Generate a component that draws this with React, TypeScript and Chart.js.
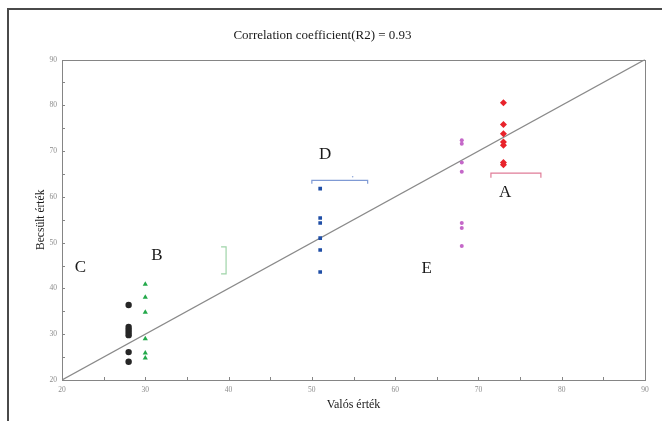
import React, { useEffect, useRef } from "react";
import { Chart, registerables } from "chart.js";
Chart.register(...registerables);

// ---- data ----
const axisMin = 20;
const axisMax = 90;
const tickStep = 10;
const minorStep = 5;

const titleText = "Correlation coefficient(R2) = 0.93";
const xTitle = "Valós érték";
const yTitle = "Becsült érték";

// group A (red diamonds)
const groupAX = 73;
const groupAY = [80.6, 75.8, 73.8, 72.0, 71.3, 67.5, 67.0];
// group B (green triangles)
const groupBX = 30;
const groupBY = [40.9, 38.1, 34.8, 29.0, 25.9, 24.8];
// group C (black circles)
const groupCX = 28;
const groupCY = [36.4, 31.6, 31.0, 30.4, 29.8, 26.1, 24.0];
// group D (blue squares)
const groupDX = 51;
const groupDY = [61.8, 55.4, 54.3, 51.0, 48.4, 43.6];
// group E (violet dots)
const groupEX = 68;
const groupEY = [72.4, 71.6, 67.5, 65.5, 54.3, 53.2, 49.3];

// identity line
const diagX = [20, 90];
const diagY = [20, 90];

// bracket shapes (data coordinates)
const bracketAX = [71.5, 71.5, 77.5, 77.5];
const bracketAY = [64.2, 65.2, 65.2, 64.2];
const bracketDX = [50.0, 50.0, 56.7, 56.7];
const bracketDY = [62.9, 63.6, 63.6, 62.9];
const bracketDDotX = [54.9];
const bracketDDotY = [64.4];
const bracketGX = [39.1, 39.7, 39.7, 39.1];
const bracketGY = [49.1, 49.1, 43.2, 43.2];

// group letters
const letterText = ["A", "B", "C", "D", "E"];
const letterX = [73.2, 31.4, 22.2, 51.6, 63.8];
const letterY = [60.9, 47.1, 44.5, 69.2, 44.3];

const pts = (xs: number[] | number, ys: number[]) =>
  ys.map((y, i) => ({ x: Array.isArray(xs) ? xs[i] : xs, y }));

const decorPlugin = {
  id: "decor",
  beforeDatasetsDraw(chart: any) {
    const { ctx } = chart;
    ctx.save();
    // page frame (top and left edges)
    ctx.strokeStyle = "#4a4a4a";
    ctx.lineWidth = 2;
    ctx.beginPath();
    ctx.moveTo(8, 421);
    ctx.lineTo(8, 9);
    ctx.lineTo(662, 9);
    ctx.stroke();
    ctx.restore();
  },
  afterDraw(chart: any) {
    const { ctx, chartArea, scales } = chart;
    const { left, right, top, bottom } = chartArea;
    const xs = scales.x;
    const ys = scales.y;
    ctx.save();
    ctx.strokeStyle = "#858585";
    ctx.lineWidth = 1;
    ctx.strokeRect(Math.round(left) + 0.5, Math.round(top) + 0.5, Math.round(right - left), Math.round(bottom - top));
    ctx.beginPath();
    for (let v = axisMin; v <= axisMax; v += minorStep) {
      const px = Math.round(xs.getPixelForValue(v)) + 0.5;
      ctx.moveTo(px, bottom);
      ctx.lineTo(px, bottom - 3);
      const py = Math.round(ys.getPixelForValue(v)) + 0.5;
      ctx.moveTo(left, py);
      ctx.lineTo(left + 3, py);
    }
    ctx.stroke();
    // letters
    ctx.fillStyle = "#1a1a1a";
    ctx.font = "17px 'Liberation Serif', serif";
    ctx.textAlign = "center";
    ctx.textBaseline = "middle";
    letterText.forEach((t, i) => {
      ctx.fillText(t, xs.getPixelForValue(letterX[i]), ys.getPixelForValue(letterY[i]));
    });
    ctx.restore();
  },
};

export default function App() {
  const ref = useRef<HTMLCanvasElement | null>(null);
  useEffect(() => {
    document.body.style.margin = "0";
    const canvas = ref.current;
    if (!canvas) return;
    const serif = "'Liberation Serif', serif";
    const lineDs = (data: any[], color: string, width = 1) => ({
      type: "scatter" as const,
      data,
      showLine: true,
      borderColor: color,
      borderWidth: width,
      pointRadius: 0,
      fill: false,
      order: 5,
    });
    const chart = new Chart(canvas, {
      type: "scatter",
      data: {
        datasets: [
          lineDs(pts(diagX, diagY), "#8a8a8a", 1.2),
          lineDs(pts(bracketAX, bracketAY), "#e07c98", 1.2),
          lineDs(pts(bracketDX, bracketDY), "#7f9ad4", 1.2),
          lineDs(pts(bracketGX, bracketGY), "#9ed4a8", 1.2),
          {
            data: pts(bracketDDotX, bracketDDotY),
            pointStyle: "circle",
            pointRadius: 0.8,
            backgroundColor: "#8fa6d8",
            borderWidth: 0,
          },
          {
            data: pts(groupAX, groupAY),
            pointStyle: "rectRot",
            pointRadius: 3.5,
            backgroundColor: "#e8232b",
            borderColor: "#e8232b",
            borderWidth: 0,
          },
          {
            data: pts(groupBX, groupBY),
            pointStyle: "triangle",
            pointRadius: 3,
            backgroundColor: "#23a94a",
            borderColor: "#23a94a",
            borderWidth: 0,
          },
          {
            data: pts(groupCX, groupCY),
            pointStyle: "circle",
            pointRadius: 3.2,
            backgroundColor: "#262626",
            borderColor: "#262626",
            borderWidth: 0,
          },
          {
            data: pts(groupDX, groupDY),
            pointStyle: "rect",
            pointRadius: 2.6,
            backgroundColor: "#1f4ea6",
            borderColor: "#1f4ea6",
            borderWidth: 0,
          },
          {
            data: pts(groupEX, groupEY),
            pointStyle: "circle",
            pointRadius: 2,
            backgroundColor: "#c467c8",
            borderColor: "#c467c8",
            borderWidth: 0,
          },
        ],
      },
      options: {
        animation: false,
        responsive: false,
        devicePixelRatio: 1,
        layout: { padding: { left: 0, right: 17, top: 0, bottom: 0 } },
        plugins: {
          legend: { display: false },
          tooltip: { enabled: false },
          title: {
            display: true,
            text: titleText,
            color: "#1a1a1a",
            font: { family: serif, size: 13, weight: "normal" },
            padding: { top: 28, bottom: 16 },
          },
        },
        scales: {
          x: {
            type: "linear",
            min: axisMin,
            max: axisMax,
            grid: { display: false, drawTicks: false },
            border: { display: false },
            ticks: {
              stepSize: tickStep,
              color: "#8c8c8c",
              font: { family: serif, size: 7.5 },
              padding: 6,
              maxRotation: 0,
            },
            title: {
              display: true,
              text: xTitle,
              color: "#1a1a1a",
              font: { family: serif, size: 12 },
              padding: { top: 0, bottom: 9 },
            },
            afterFit: (s: any) => {
              s.height = 41;
            },
          },
          y: {
            type: "linear",
            min: axisMin,
            max: axisMax,
            grid: { display: false, drawTicks: false },
            border: { display: false },
            ticks: {
              stepSize: tickStep,
              color: "#8c8c8c",
              font: { family: serif, size: 7.5 },
              padding: 5,
            },
            title: {
              display: true,
              text: yTitle,
              color: "#1a1a1a",
              font: { family: serif, size: 11.5 },
              padding: { top: 34, bottom: 0 },
            },
            afterFit: (s: any) => {
              s.width = 62;
            },
          },
        },
      },
      plugins: [decorPlugin],
    } as any);
    return () => chart.destroy();
  }, []);
  return (
    <div style={{ position: "fixed", left: 0, top: 0, width: 662, height: 421, background: "#fff" }}>
      <canvas ref={ref} width={662} height={421} style={{ display: "block", width: 662, height: 421 }} />
    </div>
  );
}
